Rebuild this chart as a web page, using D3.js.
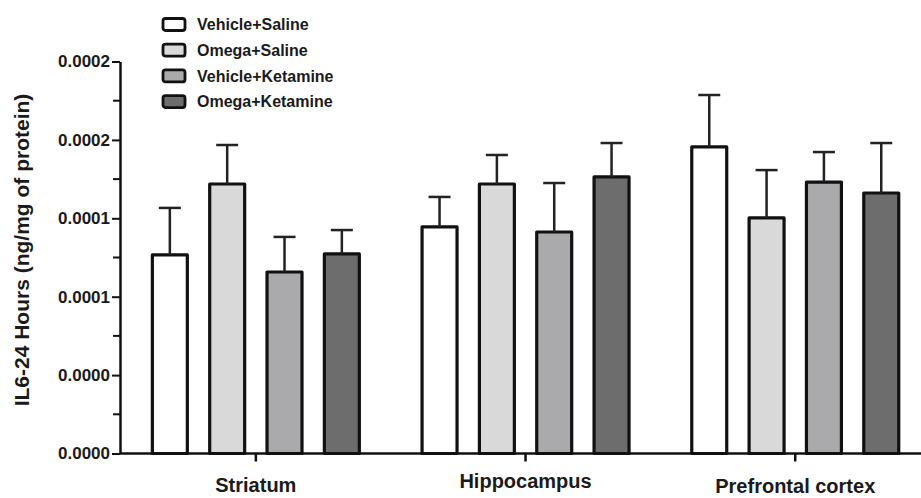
<!DOCTYPE html>
<html>
<head>
<meta charset="utf-8">
<script src="https://cdn.jsdelivr.net/npm/d3@7"></script>
<style>
  body { margin: 0; background: white; }
  text { font-family: "Liberation Sans", Arial, sans-serif; font-weight: bold; fill: #1a1a1a; }
</style>
</head>
<body>
<div id="container"></div>
<script>
/* CONSTANTS AND GLOBALS */
const width = 921;
const height = 498;
const left = 120
const bottom = 453.5
const top_ = 61.5

/* DATA */
const regions = ["Striatum", "Hippocampus", "Prefrontal cortex"]
const groups = ["Vehicle+Saline", "Omega+Saline", "Vehicle+Ketamine", "Omega+Ketamine"]
const colors = ["#ffffff", "#d9d9d9", "#aaaaad", "#6d6d6d"]

// mean per region, in order of groups
const striatum_mean = [0.0001013, 0.0001375, 0.0000926, 0.0001018]
const hippocampus_mean = [0.0001156, 0.0001375, 0.0001130, 0.0001411]
const prefrontal_mean = [0.0001564, 0.0001202, 0.0001385, 0.0001329]

// error (upper only)
const striatum_err = [0.0000240, 0.0000199, 0.0000179, 0.0000122]
const hippocampus_err = [0.0000153, 0.0000148, 0.0000250, 0.0000173]
const prefrontal_err = [0.0000265, 0.0000244, 0.0000153, 0.0000255]

const yTicks = [0, 0.00004, 0.00008, 0.00012, 0.00016, 0.0002]
const yTickLabels = ["0.0000", "0.0000", "0.0001", "0.0001", "0.0002", "0.0002"]
const yMinor = [0.00002, 0.00006, 0.0001, 0.00014, 0.00018]

const means = [striatum_mean, hippocampus_mean, prefrontal_mean]
const errs = [striatum_err, hippocampus_err, prefrontal_err]

const data = []
regions.forEach((r, i) => {
  groups.forEach((g, j) => {
    data.push({ region: r, group: g, value: means[i][j], err: errs[i][j] })
  })
})

/* SCALES */
const xScale = d3.scaleBand()
  .domain(regions)
  .range([left + 1, left + 1 + 3 * 269.7])
  .paddingInner(0)

const xInner = d3.scaleBand()
  .domain(groups)
  .range([0, xScale.bandwidth()])
  .paddingInner(0.39)
  .paddingOuter(0.547)

const yScale = d3.scaleLinear()
  .domain([0, 0.0002])
  .range([bottom, top_])

const color = d3.scaleOrdinal()
  .domain(groups)
  .range(colors)

/* HTML ELEMENTS */
const svg = d3.select("#container")
  .append("svg")
  .attr("width", width)
  .attr("height", height)
  .style("background-color", "white")

// bars
svg.append("g")
  .selectAll("rect")
  .data(data)
  .join("rect")
  .attr("x", d => xScale(d.region) + xInner(d.group))
  .attr("y", d => yScale(d.value))
  .attr("width", xInner.bandwidth())
  .attr("height", d => bottom - yScale(d.value))
  .attr("fill", d => color(d.group))
  .attr("stroke", "#111")
  .attr("stroke-width", 3.2)
  .attr("stroke-linejoin", "round")

// error bars
const eb = svg.append("g")
  .attr("stroke", "#222")
  .attr("stroke-width", 2.5)
  .selectAll("g")
  .data(data)
  .join("g")
  .attr("transform", d => `translate(${xScale(d.region) + xInner(d.group) + xInner.bandwidth() / 2},0)`)

eb.append("line")
  .attr("y1", d => yScale(d.value))
  .attr("y2", d => yScale(d.value + d.err))

eb.append("line")
  .attr("x1", -11)
  .attr("x2", 11)
  .attr("y1", d => yScale(d.value + d.err))
  .attr("y2", d => yScale(d.value + d.err))

// y axis
const yAxis = svg.append("g")
  .attr("transform", `translate(${left},0)`)
  .call(d3.axisLeft(yScale)
    .tickValues(yTicks)
    .tickFormat((d, i) => yTickLabels[i])
    .tickSize(8)
    .tickPadding(2)
    .tickSizeOuter(0))

yAxis.select(".domain").attr("stroke-width", 2.5).attr("stroke", "#111")
yAxis.selectAll(".tick line").attr("stroke-width", 2).attr("stroke", "#111")
yAxis.selectAll("text")
  .attr("font-size", 17)
  .attr("font-family", "'Liberation Sans', Arial, sans-serif")
  .attr("font-weight", "bold")
  .attr("fill", "#1a1a1a")

svg.append("g")
  .selectAll("line")
  .data(yMinor)
  .join("line")
  .attr("x1", left - 7)
  .attr("x2", left)
  .attr("y1", d => yScale(d))
  .attr("y2", d => yScale(d))
  .attr("stroke", "#111")
  .attr("stroke-width", 2)

// x axis
const xAxis = svg.append("g")
  .attr("transform", `translate(0,${bottom})`)
  .call(d3.axisBottom(xScale).tickSize(8).tickFormat(""))
xAxis.select(".domain").remove()
xAxis.selectAll(".tick line").attr("stroke-width", 2.5).attr("stroke", "#111")

svg.append("line")
  .attr("x1", left)
  .attr("x2", width)
  .attr("y1", bottom)
  .attr("y2", bottom)
  .attr("stroke", "#111")
  .attr("stroke-width", 2.5)

// category labels sit at slightly different heights in the original
const labelY = [492, 488, 493]
svg.append("g")
  .selectAll("text")
  .data(regions)
  .join("text")
  .attr("x", d => xScale(d) + xScale.bandwidth() / 2)
  .attr("y", (d, i) => labelY[i])
  .attr("text-anchor", "middle")
  .attr("font-size", 20)
  .text(d => d)

// y label
svg.append("text")
  .attr("transform", "translate(29,250) rotate(-90)")
  .attr("text-anchor", "middle")
  .attr("font-size", 21)
  .text("IL6-24 Hours (ng/mg of protein)")

// legend
const legend = svg.append("g")
  .selectAll("g")
  .data(groups)
  .join("g")
  .attr("transform", (d, i) => `translate(163,${24.5 + i * 25.7})`)

legend.append("rect")
  .attr("x", 0)
  .attr("y", -6)
  .attr("width", 22)
  .attr("height", 12)
  .attr("rx", 2.5)
  .attr("fill", d => color(d))
  .attr("stroke", "#111")
  .attr("stroke-width", 2.8)

legend.append("text")
  .attr("x", 34)
  .attr("dy", "0.36em")
  .attr("font-size", 16)
  .text(d => d)
</script>
</body>
</html>
